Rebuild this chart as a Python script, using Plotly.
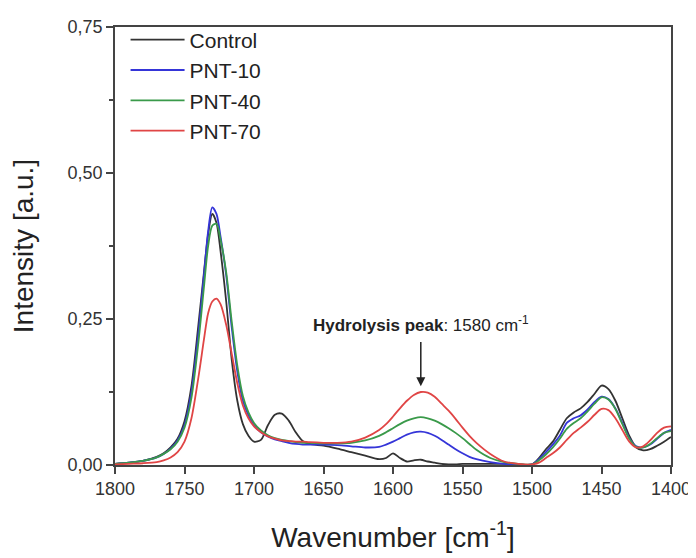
import plotly.graph_objects as go

wavenumber = [1800, 1790, 1780, 1770, 1765, 1760, 1755, 1750, 1745, 1740, 1736, 1733, 1730, 1727,
              1724, 1720, 1716, 1712, 1708, 1704, 1700, 1695, 1690, 1685, 1680, 1675, 1670, 1665,
              1660, 1650, 1640, 1630, 1620, 1610, 1605, 1600, 1595, 1590, 1585, 1580, 1575, 1570,
              1565, 1560, 1555, 1550, 1545, 1540, 1530, 1520, 1510, 1500, 1495, 1490, 1485, 1480,
              1475, 1470, 1465, 1460, 1455, 1450, 1445, 1440, 1435, 1430, 1425, 1420, 1415, 1410,
              1405, 1400]

control = [0.002, 0.004, 0.007, 0.014, 0.02, 0.03, 0.045, 0.075, 0.135, 0.24, 0.33, 0.395, 0.43, 0.415,
           0.365, 0.28, 0.18, 0.11, 0.07, 0.05, 0.04, 0.043, 0.068, 0.086, 0.088, 0.076, 0.056, 0.041,
           0.036, 0.033, 0.028, 0.022, 0.016, 0.01, 0.012, 0.02, 0.012, 0.006, 0.008, 0.009, 0.006, 0.004,
           0.002, 0.001, 0.001, 0.002, 0.002, 0.002, 0.002, 0.002, 0.001, 0.001, 0.012, 0.027, 0.04, 0.06,
           0.08, 0.09, 0.097, 0.108, 0.122, 0.136, 0.13, 0.11, 0.08, 0.05, 0.03, 0.025, 0.027, 0.033,
           0.04, 0.048]

pnt10 = [0.002, 0.004, 0.007, 0.013, 0.019, 0.028, 0.042, 0.068, 0.125, 0.225, 0.325, 0.40, 0.441, 0.43,
         0.39, 0.325, 0.235, 0.16, 0.11, 0.085, 0.068, 0.056, 0.049, 0.044, 0.041, 0.038, 0.036, 0.035,
         0.035, 0.035, 0.034, 0.032, 0.03, 0.031, 0.035, 0.04, 0.046, 0.052, 0.056, 0.057, 0.055, 0.05,
         0.043, 0.035, 0.027, 0.02, 0.014, 0.01, 0.005, 0.002, 0.001, 0.001, 0.01, 0.022, 0.035, 0.05,
         0.072, 0.08, 0.085, 0.095, 0.108, 0.117, 0.113, 0.097, 0.072, 0.046, 0.032, 0.03, 0.035, 0.045,
         0.055, 0.06]

pnt40 = [0.002, 0.004, 0.007, 0.013, 0.019, 0.027, 0.04, 0.064, 0.115, 0.21, 0.305, 0.375, 0.41, 0.413,
         0.385, 0.33, 0.245, 0.17, 0.118, 0.09, 0.072, 0.059, 0.051, 0.046, 0.043, 0.041, 0.039, 0.038,
         0.038, 0.037, 0.037, 0.038, 0.042, 0.05, 0.056, 0.063, 0.07, 0.076, 0.08, 0.082, 0.08, 0.076,
         0.07, 0.063, 0.055, 0.046, 0.036, 0.026, 0.012, 0.005, 0.002, 0.001, 0.008, 0.018, 0.03, 0.045,
         0.062, 0.072, 0.08, 0.092, 0.105, 0.116, 0.112, 0.096, 0.07, 0.045, 0.031, 0.03, 0.036, 0.046,
         0.055, 0.058]

pnt70 = [0.001, 0.002, 0.003, 0.005, 0.008, 0.013, 0.022, 0.04, 0.08, 0.15, 0.215, 0.26, 0.28, 0.285,
         0.275, 0.24, 0.19, 0.14, 0.102, 0.08, 0.066, 0.056, 0.049, 0.045, 0.042, 0.041, 0.04, 0.04,
         0.039, 0.038, 0.038, 0.04, 0.047, 0.06, 0.07, 0.083, 0.097, 0.11, 0.12, 0.125, 0.124, 0.117,
         0.105, 0.093, 0.079, 0.064, 0.05, 0.038, 0.019, 0.006, 0.002, 0.001, 0.004, 0.012, 0.02, 0.03,
         0.043, 0.055, 0.064, 0.074, 0.086, 0.096, 0.094, 0.08, 0.06, 0.04, 0.03, 0.032, 0.042, 0.055,
         0.064, 0.066]

series_names = ["Control", "PNT-10", "PNT-40", "PNT-70"]
series_values = [control, pnt10, pnt40, pnt70]
series_colors = ["#333333", "#3535d8", "#3a9a4a", "#e04545"]

x_ticks = [1800, 1750, 1700, 1650, 1600, 1550, 1500, 1450, 1400]
y_ticks = [0.0, 0.25, 0.5, 0.75]
y_ticklabels = ["0,00", "0,25", "0,50", "0,75"]

peak_pos = 1580

fig = go.Figure()
for name, vals, col in zip(series_names, series_values, series_colors):
    fig.add_trace(go.Scatter(x=wavenumber, y=vals, mode="lines", name=name,
                             line=dict(color=col, width=1.8, shape="spline", smoothing=0.8)))

axis_common = dict(showline=True, linecolor="#444444", linewidth=1.5, mirror=True,
                   ticks="outside", tickcolor="#444444", ticklen=7, tickwidth=1.5,
                   showgrid=False, zeroline=False, automargin=False,
                   tickfont=dict(size=18, color="#333333"))

fig.update_layout(
    width=696, height=558,
    margin=dict(l=107, r=33, t=12, b=101),
    paper_bgcolor="white", plot_bgcolor="white",
    font=dict(family="Liberation Sans, Arial, sans-serif", color="#222222"),
    xaxis=dict(range=[1800, 1400], tickvals=x_ticks,
               title=dict(text="Wavenumber [cm<sup>-1</sup>]", font=dict(size=28), standoff=29),
               **axis_common),
    yaxis=dict(range=[0, 0.75], tickvals=y_ticks, ticktext=y_ticklabels,
               minor=dict(ticks="outside", ticklen=4, tickcolor="#444444", dtick=0.125, tick0=0),
               title=dict(text="Intensity [a.u.]", font=dict(size=28), standoff=40),
               **axis_common),
    legend=dict(x=0.019, y=1.017, xanchor="left", yanchor="top", bgcolor="rgba(0,0,0,0)",
                font=dict(size=21, color="#222222"), tracegroupgap=0, itemwidth=54),
    showlegend=True,
)

fig.add_annotation(x=peak_pos, y=0.135, ax=peak_pos, ay=0.213, axref="x", ayref="y",
                   xref="x", yref="y", text="", showarrow=True, arrowhead=2, arrowsize=1.2,
                   arrowwidth=1.5, arrowcolor="#222222")
fig.add_annotation(x=peak_pos, y=0.241, xref="x", yref="y", showarrow=False,
                   text="<b>Hydrolysis peak</b>: 1580 cm<sup>-1</sup>",
                   font=dict(size=17, color="#222222"))

fig.write_html("out.html")
